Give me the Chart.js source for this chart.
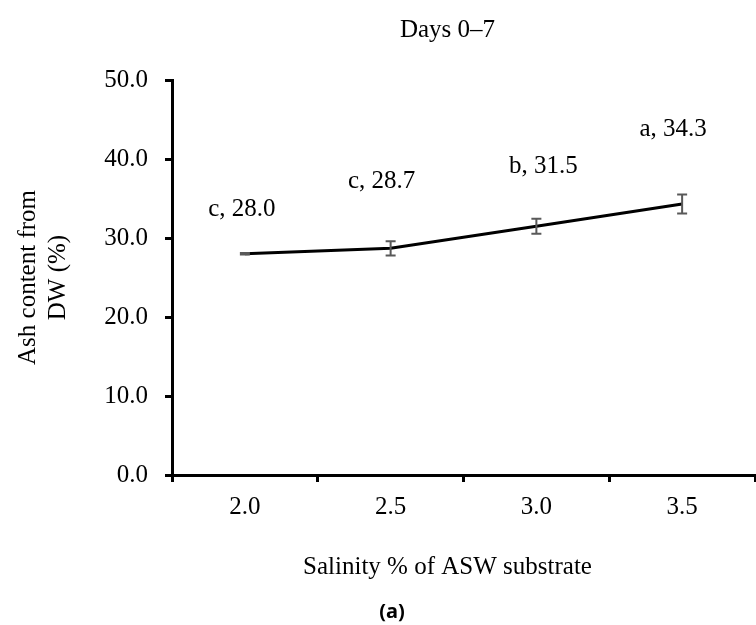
<!DOCTYPE html>
<html>
<head>
<meta charset="utf-8">
<script src="https://cdn.jsdelivr.net/npm/chart.js@4"></script>
<style>
  body { margin: 0; background: #fff; }
  canvas { display: block; }
</style>
</head>
<body>
<canvas id="ashChart" width="756" height="625"></canvas>
<script>
const categories = ['2.0', '2.5', '3.0', '3.5'];
const ashContent = [28.0, 28.7, 31.5, 34.3];
const ashError = [0.1, 0.9, 0.95, 1.2];
const pointLabels = ['c, 28.0', 'c, 28.7', 'b, 31.5', 'a, 34.3'];
const yMin = 0;
const yMax = 50;
const yStep = 10;

const serif = 'Liberation Serif, Times New Roman, serif';

// error bars drawn through the scales
const errorBars = {
    id: 'errorBars',
    afterDatasetsDraw(chart) {
        const { ctx, scales: { x, y } } = chart;
        ctx.save();
        ctx.strokeStyle = '#595959';
        ctx.lineWidth = 2;
        ashContent.forEach((v, i) => {
            const px = x.getPixelForValue(i);
            const top = y.getPixelForValue(v + ashError[i]);
            const bot = y.getPixelForValue(v - ashError[i]);
            ctx.beginPath();
            ctx.moveTo(px, top); ctx.lineTo(px, bot);
            ctx.moveTo(px - 5, top); ctx.lineTo(px + 5, top);
            ctx.moveTo(px - 5, bot); ctx.lineTo(px + 5, bot);
            ctx.stroke();
        });
        ctx.restore();
    }
};

// letter + value labels above each point
const valueLabels = {
    id: 'valueLabels',
    afterDatasetsDraw(chart, args, opts) {
        const { ctx, scales: { x, y } } = chart;
        ctx.save();
        ctx.font = '25px ' + serif;
        ctx.fillStyle = '#000';
        ctx.textAlign = 'center';
        ctx.textBaseline = 'middle';
        ashContent.forEach((v, i) => {
            ctx.fillText(pointLabels[i],
                x.getPixelForValue(i) + opts.dx[i],
                y.getPixelForValue(v) - opts.dy[i]);
        });
        ctx.restore();
    }
};

// chart title, x title and panel tag
const extraText = {
    id: 'extraText',
    afterDraw(chart) {
        const { ctx, chartArea } = chart;
        const cx = (chartArea.left + chartArea.right) / 2 - 16;
        ctx.save();
        ctx.fillStyle = '#000';
        ctx.textAlign = 'center';
        ctx.textBaseline = 'middle';
        ctx.font = '25px ' + serif;
        ctx.fillText('Days 0–7', cx, 30);
        ctx.fillText('Salinity % of ASW substrate', cx, 567);
        ctx.font = 'bold 20px "Noto Sans", sans-serif';
        ctx.fillText('(a)', 392, 612);
        ctx.restore();
    }
};

const ctx = document.getElementById('ashChart').getContext('2d');
const ashChart = new Chart(ctx, {
    type: 'line',
    data: {
        labels: categories,
        datasets: [{
            label: 'Ash content',
            data: ashContent,
            borderColor: '#000',
            borderWidth: 3,
            pointRadius: 0,
            tension: 0,
            fill: false,
        }],
    },
    options: {
        responsive: false,
        animation: false,
        layout: { padding: { top: 80, right: 1, left: 0, bottom: 0 } },
        plugins: {
            legend: { display: false },
            tooltip: { enabled: false },
            valueLabels: { dx: [-3, -9, 7, -9], dy: [44, 67, 60, 75] },
        },
        scales: {
            x: {
                type: 'category',
                offset: true,
                grid: {
                    offset: true,
                    drawOnChartArea: false,
                    color: '#000',
                    lineWidth: 3,
                    tickLength: 7,
                },
                border: { color: '#000', width: 3 },
                ticks: { color: '#000', font: { family: serif, size: 25 }, padding: 10 },
                afterFit(scale) { scale.height = 150; },
            },
            y: {
                min: yMin,
                max: yMax,
                grid: {
                    drawOnChartArea: false,
                    color: '#000',
                    lineWidth: 3,
                    tickLength: 7,
                },
                border: { color: '#000', width: 3 },
                ticks: {
                    stepSize: yStep,
                    color: '#000',
                    font: { family: serif, size: 25 },
                    padding: 17,
                    callback: (v) => v.toFixed(1),
                },
                title: {
                    display: true,
                    text: ['Ash content from', 'DW (%)'],
                    color: '#000',
                    font: { family: serif, size: 25, lineHeight: 1.2 },
                    padding: { top: 13, bottom: 0 },
                },
                afterFit(scale) { scale.width = 172; },
            },
        },
    },
    plugins: [errorBars, valueLabels, extraText],
});
</script>
</body>
</html>
